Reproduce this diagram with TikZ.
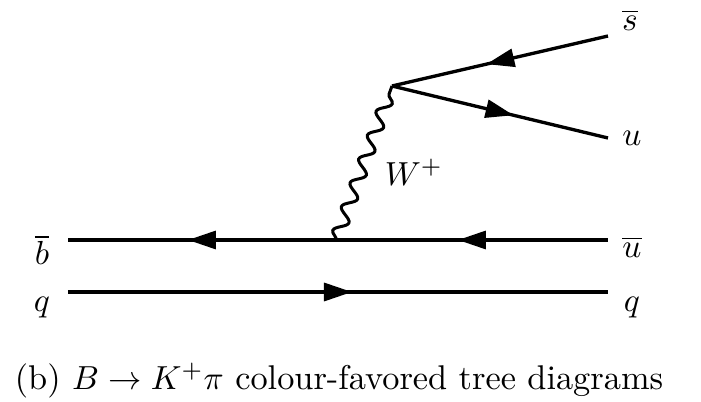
\documentclass[tikz,border=0pt]{standalone}
\usepackage{amsmath}
\usetikzlibrary{arrows.meta,decorations.pathmorphing,decorations.markings}

\begin{document}
\begin{tikzpicture}[x=0.3pt,y=-0.3pt,
  fermion/.style={line width=1pt, postaction={decorate}, decoration={markings, mark=at position 0.5 with {\arrow[xshift=4.2pt]{Triangle[length=8.4pt,width=5.4pt]}}}},
  boson/.style={line width=0.9pt, decorate, decoration={snake, segment length=7.6pt, amplitude=1.9pt}},
  lbl/.style={inner sep=0pt, font=\fontsize{10.3}{12}\selectfont}]
\useasboundingbox (0,0) rectangle (701,402);
% vertices and line ends
\coordinate (bin) at (68,240);
\coordinate (uout) at (608,240);
\coordinate (qin) at (68,292);
\coordinate (qout) at (608,292);
\coordinate (vlow) at (336,240);
\coordinate (vup) at (392,86);
\coordinate (sout) at (608,36);
\coordinate (uup) at (608,138);
% quark lines
\draw[fermion] (uout) -- (vlow);
\draw[fermion] (vlow) -- (bin);
\draw[fermion] (qin) -- (qout);
\draw[fermion] (sout) -- (vup);
\draw[fermion] (vup) -- (uup);
% W boson
\draw[boson] (vlow) -- (vup);
% labels
\node[lbl] (lb) at (42,250) {$\overline{b}$};
\node[lbl] (lq) at (42,308) {$q$};
\node[lbl] (lu) at (632,247) {$\overline{u}$};
\node[lbl] (lq2) at (632,308) {$q$};
\node[lbl] (ls) at (630,20) {$\overline{s}$};
\node[lbl] (lu2) at (632,138) {$u$};
\node[lbl] (lw) at (414,172) {$W^{+}$};
\node[lbl] (cap) at (339,381) {(b) $B\to K^{+}\pi$ colour-favored tree diagrams};
\end{tikzpicture}
\end{document}
